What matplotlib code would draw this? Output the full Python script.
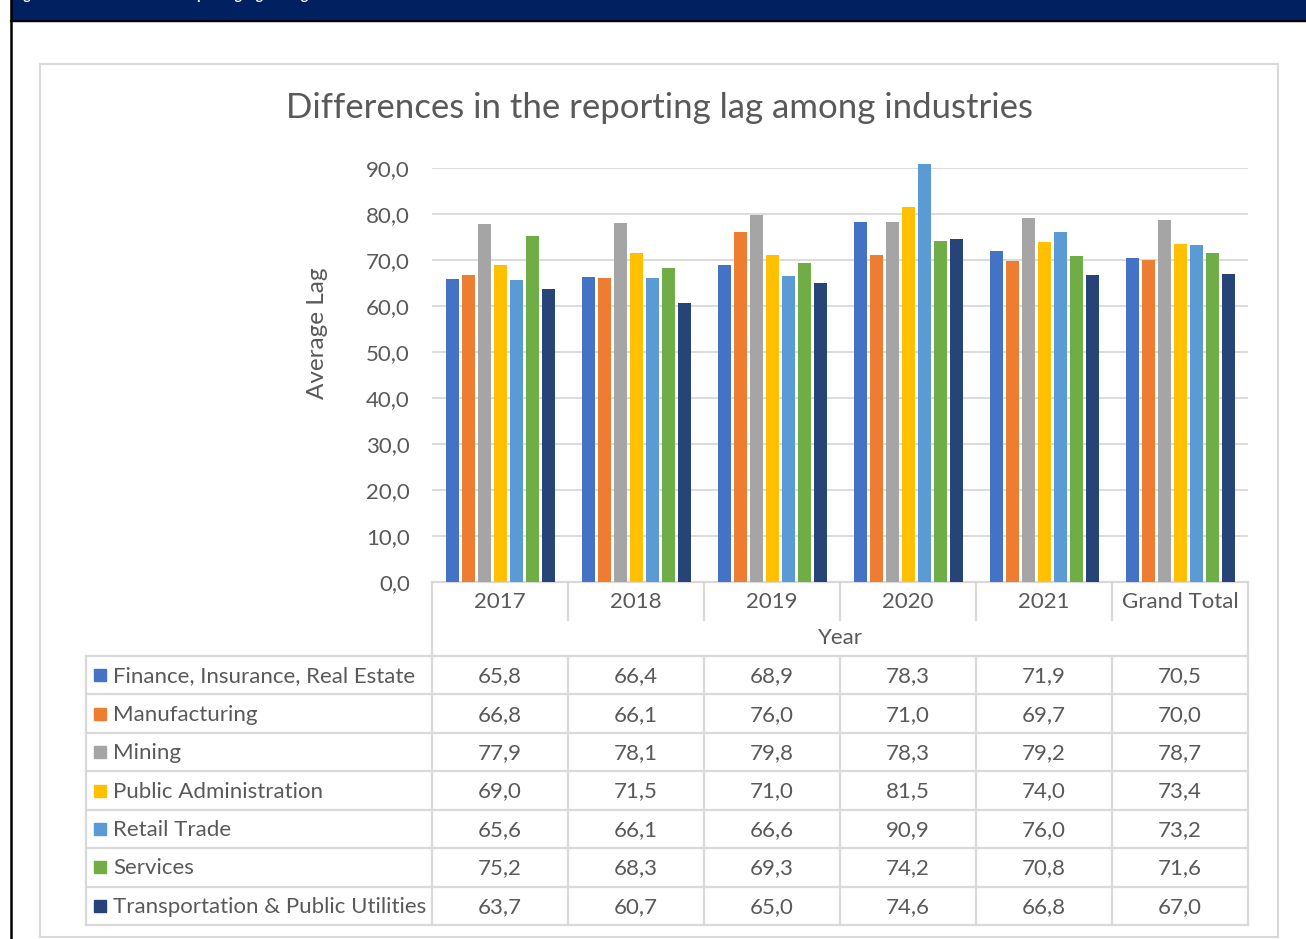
import matplotlib
matplotlib.use("Agg")
import matplotlib.pyplot as plt
from matplotlib.patches import Rectangle

# Data
years = ["2017", "2018", "2019", "2020", "2021", "Grand Total"]
industries = ["Finance, Insurance, Real Estate", "Manufacturing", "Mining",
              "Public Administration", "Retail Trade", "Services",
              "Transportation & Public Utilities"]
finance = [65.8, 66.4, 68.9, 78.3, 71.9, 70.5]
manufacturing = [66.8, 66.1, 76.0, 71.0, 69.7, 70.0]
mining = [77.9, 78.1, 79.8, 78.3, 79.2, 78.7]
public_admin = [69.0, 71.5, 71.0, 81.5, 74.0, 73.4]
retail = [65.6, 66.1, 66.6, 90.9, 76.0, 73.2]
services = [75.2, 68.3, 69.3, 74.2, 70.8, 71.6]
transport = [63.7, 60.7, 65.0, 74.6, 66.8, 67.0]
yticks = [0, 10, 20, 30, 40, 50, 60, 70, 80, 90]

series = [finance, manufacturing, mining, public_admin, retail, services, transport]
colors = ["#4472C4", "#ED7D31", "#A5A5A5", "#FFC000", "#5B9BD5", "#70AD47", "#264478"]

W, H = 1306, 939
TXT = "#595959"
LINE = "#d9d9d9"
FS = 16
plt.rcParams["font.family"] = ["Lato", "DejaVu Sans"]

fig = plt.figure(figsize=(W / 100, H / 100), dpi=100)

# overlay in pixel coordinates for frame, titles and table
ov = fig.add_axes([0, 0, 1, 1])
ov.set_xlim(0, W)
ov.set_ylim(H, 0)
ov.axis("off")

# banner at the top (its caption is cut off, only descenders show)
ov.add_patch(Rectangle((11, -5), W, 26, color="#002060", zorder=1))
ov.plot([11, W], [21, 21], color="black", lw=1.5, zorder=2)
ov.plot([11, 11], [0, H], color="black", lw=1.8, zorder=2)
ov.text(12, -0.5, "Figure 4: Differences in the reporting lag among industries",
        color="white", fontsize=10, fontweight="bold", va="baseline", ha="left", zorder=3)

# chart frame
ov.add_patch(Rectangle((40, 64), 1238, 873, fill=False, ec=LINE, lw=1.5))
ov.text(659, 108, "Differences in the reporting lag among industries",
        color=TXT, fontsize=25, ha="center", va="center")
ov.text(318, 333, "Average Lag", color=TXT, fontsize=17.5, rotation=90,
        ha="center", va="center")

# bar chart
left, right, top, bottom = 432, 1248, 168, 582
ax = fig.add_axes([left / W, 1 - bottom / H, (right - left) / W, (bottom - top) / H])
ax.patch.set_alpha(0)
n = len(series)
pitch = 16 / 136
width = 13 / 136
for i, (vals, c) in enumerate(zip(series, colors)):
    xs = [j + (i - (n - 1) / 2) * pitch for j in range(len(years))]
    ax.bar(xs, vals, width=width, color=c, clip_on=False, zorder=3)
ax.set_xlim(-0.5, len(years) - 0.5)
ax.set_ylim(0, 90)
ax.set_yticks(yticks)
ax.set_yticklabels([f"{v:.1f}".replace(".", ",") for v in yticks], color=TXT, fontsize=FS)
ax.tick_params(axis="y", length=0, pad=16)
ax.set_xticks([])
ax.yaxis.grid(True, color=LINE, lw=1.3)
ax.set_axisbelow(True)
for s in ax.spines.values():
    s.set_visible(False)

# data table under the chart
col_w = (right - left) / len(years)
col_x = [left + k * col_w for k in range(len(years) + 1)]
row_top = 656
row_h = (925 - row_top) / len(industries)
lkw = dict(color=LINE, lw=1.6, solid_capstyle="projecting")

ov.plot([left, right], [bottom, bottom], **lkw)
ov.plot([left, left], [bottom, 925], **lkw)
ov.plot([right, right], [bottom, 925], **lkw)
for x in col_x[1:-1]:
    ov.plot([x, x], [bottom, 620], **lkw)
    ov.plot([x, x], [row_top, 925], **lkw)
ov.plot([86, 86], [row_top, 925], **lkw)
for k in range(len(industries) + 1):
    y = row_top + k * row_h
    ov.plot([86, right], [y, y], **lkw)

for j, yr in enumerate(years):
    ov.text(col_x[j] + col_w / 2, 602, yr, color=TXT, fontsize=FS, ha="center", va="center")
ov.text((left + right) / 2, 638, "Year", color=TXT, fontsize=FS, ha="center", va="center")

for k, (name, vals, c) in enumerate(zip(industries, series, colors)):
    yc = row_top + (k + 0.5) * row_h
    ov.add_patch(Rectangle((94, yc - 6), 12, 12, color=c))
    ov.text(113, yc + 1, name, color=TXT, fontsize=FS, ha="left", va="center")
    for j, v in enumerate(vals):
        ov.text(col_x[j] + col_w / 2, yc + 1, f"{v:.1f}".replace(".", ","), color=TXT,
                fontsize=FS, ha="center", va="center")

fig.savefig("out.png", dpi=100)
